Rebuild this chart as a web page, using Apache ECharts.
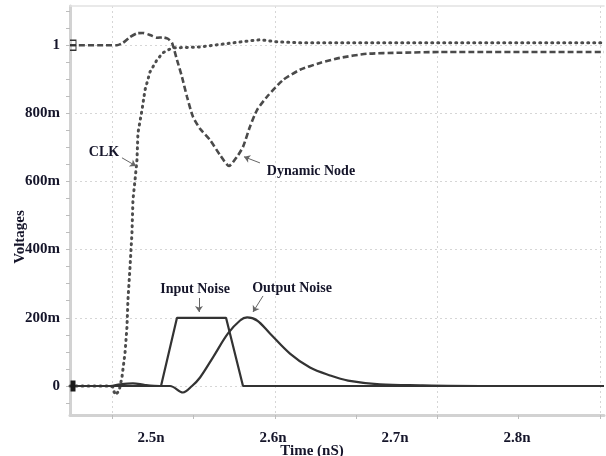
<!DOCTYPE html>
<html>
<head>
<meta charset="utf-8">
<script src="https://cdn.jsdelivr.net/npm/echarts@6/dist/echarts.min.js"></script>
<style>
html, body { margin: 0; padding: 0; background: #fff; }
#main { width: 606px; height: 456px; }
</style>
</head>
<body>
<div id="main"></div>
<script>
// time in ns, voltage in V
var clkTime = [2.4336, 2.4664, 2.4689, 2.4705, 2.4738, 2.4762, 2.4787, 2.4803, 2.4811, 2.4828, 2.4844, 2.4852, 2.4869, 2.4885, 2.4893, 2.4926, 2.4951, 2.4992, 2.5049, 2.5098, 2.5172, 2.5402, 2.5672, 2.5811, 2.5893, 2.6033, 2.6221, 2.8713]
var clkVolt = [0, 0, -0.003, -0.026, -0.015, 0.026, 0.097, 0.173, 0.252, 0.349, 0.449, 0.545, 0.604, 0.663, 0.742, 0.809, 0.868, 0.921, 0.956, 0.977, 0.991, 0.994, 1.006, 1.012, 1.015, 1.009, 1.006, 1.006]

var dnTime = [2.4336, 2.4721, 2.4770, 2.4828, 2.4885, 2.4934, 2.4992, 2.5049, 2.5098, 2.5139, 2.5172, 2.5213, 2.5254, 2.5295, 2.5344, 2.5402, 2.5484, 2.5566, 2.5639, 2.5705, 2.5754, 2.5811, 2.5869, 2.5951, 2.6082, 2.6221, 2.6385, 2.6549, 2.6770, 2.7041, 2.7369, 2.8713]
var dnVolt = [0.999, 0.999, 1.006, 1.023, 1.034, 1.035, 1.029, 1.021, 1.022, 1.018, 1.006, 0.956, 0.906, 0.848, 0.789, 0.754, 0.721, 0.677, 0.645, 0.672, 0.701, 0.760, 0.809, 0.848, 0.897, 0.927, 0.947, 0.962, 0.974, 0.977, 0.979, 0.979]

var inTime = [2.4336, 2.5082, 2.5213, 2.5615, 2.5754, 2.8713]
var inVolt = [0, 0, 0.2, 0.2, 0, 0]

var outTime = [2.4336, 2.4664, 2.4746, 2.4852, 2.4951, 2.5074, 2.5156, 2.5262, 2.5336, 2.5402, 2.5508, 2.5631, 2.5730, 2.5787, 2.5869, 2.5975, 2.6139, 2.6303, 2.6467, 2.6615, 2.6877, 2.7205, 2.7697, 2.8713]
var outVolt = [0, 0, 0.005, 0.008, 0.003, 0, 0, -0.019, 0, 0.025, 0.084, 0.154, 0.192, 0.201, 0.192, 0.154, 0.095, 0.054, 0.031, 0.016, 0.005, 0.002, 0, 0]

// axis labels / ticks
var xLabelValues = [2.5, 2.6, 2.7, 2.8]
var xGridValues = [2.4680, 2.6016, 2.7344, 2.8680]
var xTickValues = [2.4680, 2.5344, 2.6016, 2.6680, 2.7344, 2.8008, 2.8680]
var yLabelValues = [0, 0.2, 0.4, 0.6, 0.8, 1]
var yTickValues = []
for (var k = -1; k <= 22; k++) yTickValues.push(+(k * 0.05).toFixed(2))

// annotation text + arrow [from, to]
var notes = [
    { text: 'CLK', at: [2.4615, 0.686], from: [2.4762, 0.669], to: [2.4877, 0.645] },
    { text: 'Dynamic Node', at: [2.6311, 0.628], from: [2.5893, 0.654], to: [2.5762, 0.672] },
    { text: 'Input Noise', at: [2.5361, 0.284], from: [2.5393, 0.258], to: [2.5393, 0.217] },
    { text: 'Output Noise', at: [2.6156, 0.287], from: [2.5918, 0.264], to: [2.5836, 0.217] }
]

var xMin = 2.4336, xMax = 2.8713
var yMin = -0.085, yMax = 1.114

var serif = '"Liberation Serif", "Times New Roman", serif'
var txtColor = '#15152a'

function zip(a, b) {
    return a.map(function (v, i) { return [v, b[i]] })
}

function voltLabel(v) {
    if (v === 0) return '0'
    if (v >= 1) return String(v)
    return Math.round(v * 1000) + 'm'
}

var myChart = echarts.init(document.getElementById('main'))

var option = {
    animation: false,
    backgroundColor: '#ffffff',
    grid: { left: 70, right: 2, top: 6, bottom: 41 },
    xAxis: [{
        type: 'value',
        min: xMin,
        max: xMax,
        position: 'bottom',
        axisLine: { show: true, onZero: false, lineStyle: { color: '#d2d2d2', width: 3 } },
        axisTick: { show: true, customValues: xTickValues, length: 4, lineStyle: { color: '#bdbdbd' } },
        axisLabel: {
            customValues: xLabelValues,
            formatter: function (v) { return v.toFixed(1) + 'n' },
            margin: 16,
            fontFamily: serif,
            fontWeight: 'bold',
            fontSize: 15,
            color: txtColor
        },
        splitLine: { show: false }
    }, {
        type: 'value',
        min: xMin,
        max: xMax,
        position: 'top',
        axisLine: { show: true, onZero: false, lineStyle: { color: '#e2e2e2', width: 1.5 } },
        axisTick: { show: false, customValues: xGridValues },
        axisLabel: { show: false },
        splitLine: { show: true, lineStyle: { type: [2, 3], color: '#d6d6d6' } }
    }],
    yAxis: [{
        type: 'value',
        min: yMin,
        max: yMax,
        position: 'left',
        axisLine: { show: true, onZero: false, lineStyle: { color: '#d2d2d2', width: 3 } },
        axisTick: { show: true, customValues: yTickValues, length: 4, lineStyle: { color: '#bdbdbd' } },
        axisLabel: {
            customValues: yLabelValues,
            formatter: voltLabel,
            margin: 10,
            fontFamily: serif,
            fontWeight: 'bold',
            fontSize: 15,
            color: txtColor
        },
        splitLine: { show: false }
    }, {
        type: 'value',
        min: yMin,
        max: yMax,
        position: 'right',
        axisLine: { show: false },
        axisTick: { show: false, customValues: yLabelValues },
        axisLabel: { show: false },
        splitLine: { show: true, lineStyle: { type: [2, 3], color: '#d6d6d6' } }
    }],
    graphic: [{
        type: 'text',
        x: 20,
        y: 237,
        rotation: Math.PI / 2,
        style: { text: 'Voltages', font: 'bold 15px ' + serif, fill: txtColor, align: 'center', verticalAlign: 'middle' }
    }, {
        type: 'text',
        x: 312,
        y: 451,
        style: { text: 'Time (nS)', font: 'bold 15px ' + serif, fill: txtColor, align: 'center', verticalAlign: 'middle' }
    }],
    series: [{
        name: 'CLK',
        type: 'line',
        showSymbol: false,
        data: zip(clkTime, clkVolt),
        lineStyle: { color: '#4d4d4d', width: 3, type: [1, 5], cap: 'round' },
        z: 3
    }, {
        name: 'Dynamic Node',
        type: 'line',
        showSymbol: false,
        smooth: 0.2,
        data: zip(dnTime, dnVolt),
        lineStyle: { color: '#4a4a4a', width: 2.6, type: [6, 3] },
        // waveform start marker
        markPoint: {
            symbol: 'path://M0,0 L6,0 L6,10 L0,10 M0,5 L6,5',
            symbolSize: [6, 10],
            symbolOffset: [3, 0],
            itemStyle: { color: 'rgba(0,0,0,0)', borderColor: '#333', borderWidth: 1.2 },
            label: { show: false },
            data: [{ coord: [xMin, dnVolt[0]] }]
        },
        z: 3
    }, {
        name: 'Input Noise',
        type: 'line',
        showSymbol: false,
        data: zip(inTime, inVolt),
        lineStyle: { color: '#333333', width: 2.2 },
        markPoint: {
            symbol: 'rect',
            symbolSize: [5, 11],
            symbolOffset: [3, 0],
            itemStyle: { color: '#1a1a1a' },
            label: { show: false },
            data: [{ coord: [xMin, inVolt[0]] }]
        },
        z: 4
    }, {
        name: 'Output Noise',
        type: 'line',
        showSymbol: false,
        smooth: 0.35,
        data: zip(outTime, outVolt),
        lineStyle: { color: '#333333', width: 2.2 },
        z: 4
    }, {
        // annotations
        name: 'notes',
        type: 'line',
        data: [],
        silent: true,
        markPoint: {
            symbol: 'circle',
            symbolSize: 1,
            itemStyle: { color: 'rgba(0,0,0,0)' },
            label: {
                show: true,
                position: 'inside',
                fontFamily: serif,
                fontWeight: 'bold',
                fontSize: 14,
                color: txtColor,
                formatter: function (p) { return p.name }
            },
            data: notes.map(function (n) { return { name: n.text, coord: n.at } })
        },
        markLine: {
            symbol: ['none', 'arrow'],
            symbolSize: 6,
            label: { show: false },
            lineStyle: { color: '#666666', width: 1, type: 'solid' },
            data: notes.map(function (n) { return [{ coord: n.from }, { coord: n.to }] })
        }
    }]
}

myChart.setOption(option)
</script>
</body>
</html>
